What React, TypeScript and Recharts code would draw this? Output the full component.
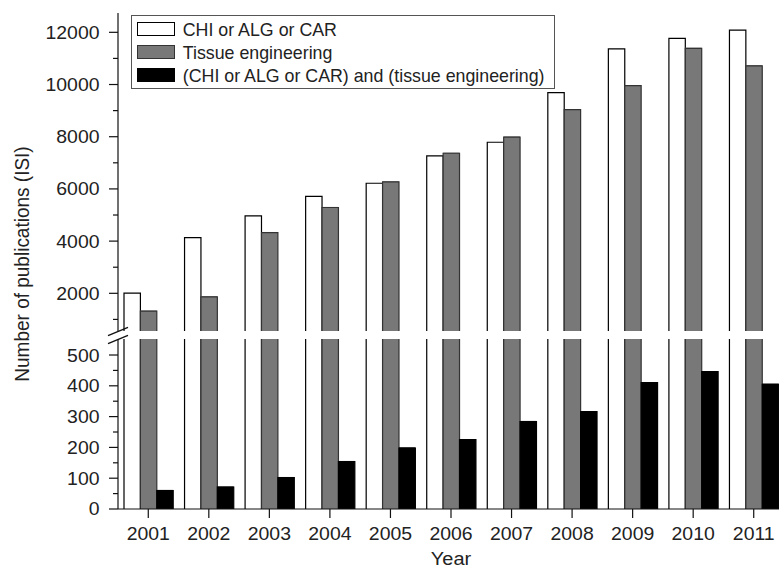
import React from 'react';
import { BarChart, Bar, XAxis, YAxis, Legend, Label } from 'recharts';

// ---------- data ----------
const years = ['2001', '2002', '2003', '2004', '2005', '2006', '2007', '2008', '2009', '2010', '2011'];
const chiAlgCar = [2030, 4160, 4990, 5740, 6240, 7290, 7810, 9710, 11390, 11790, 12110];
const tissueEngineering = [1340, 1890, 4350, 5310, 6290, 7390, 8010, 9060, 9980, 11410, 10740];
const combined = [62, 73, 104, 156, 200, 227, 286, 318, 412, 448, 407];

const seriesKeys = ['chi', 'tissue', 'both'];
const seriesNames = ['CHI or ALG or CAR', 'Tissue engineering', '(CHI or ALG or CAR) and (tissue engineering)'];
const seriesFills = ['#ffffff', '#787878', '#000000'];
const seriesStrokes = ['#000000', '#333333', '#000000'];

const upperTicks = [1000, 2000, 3000, 4000, 5000, 6000, 7000, 8000, 9000, 10000, 11000, 12000];
const lowerTicks = [0, 50, 100, 150, 200, 250, 300, 350, 400, 450, 500];
const upperDomain: [number, number] = [556, 12740];
const lowerDomain: [number, number] = [0, 552];

const data = years.map((year, i) => ({
  year,
  chi: chiAlgCar[i],
  tissue: tissueEngineering[i],
  both: combined[i],
}));

// ---------- layout / style ----------
const W = 800;
const H = 569;
const AXIS_X = 118;
const RIGHT = 16;
const UPPER_TOP = 13;
const UPPER_BOTTOM = 331;
const LOWER_TOP = 339;
const LOWER_BOTTOM = 509;
const FONT = '"Liberation Sans", Arial, Helvetica, sans-serif';
const TEXT = '#222222';
const AXIS = '#111111';
const STRETCH = 1.08;

const makeShape = (stroke: string) => (props: any) => {
  const { x, y, width, height, fill, background } = props;
  if (x == null || y == null || width == null || height == null) return null;
  const y0 = Math.min(y, y + height);
  const y1 = Math.max(y, y + height);
  const top = background && background.y != null ? background.y : -Infinity;
  const bottom = background && background.height != null ? background.y + background.height : Infinity;
  const cy0 = Math.max(y0, top);
  const cy1 = Math.min(y1, bottom);
  if (cy1 - cy0 <= 0.01) return null;
  const topClipped = y0 < top - 0.01;
  const d = topClipped
    ? `M${x},${cy1}V${cy0}M${x + width},${cy0}V${cy1}`
    : `M${x},${cy1}V${cy0 + 0.6}H${x + width}V${cy1}`;
  return (
    <g>
      <rect x={x} y={cy0} width={width} height={cy1 - cy0} fill={fill} />
      <path d={d} fill="none" stroke={stroke} strokeWidth={1.2} />
    </g>
  );
};

const YTick = (props: any) => {
  const { y, payload, step } = props;
  const v = payload.value;
  const major = v % step === 0;
  return (
    <g>
      <line x1={AXIS_X - (major ? 9 : 5)} x2={AXIS_X} y1={y} y2={y} stroke={AXIS} strokeWidth={1.2} />
      {major && (
        <text
          transform={`translate(${AXIS_X - 18.5},${y}) scale(${STRETCH},1)`}
          textAnchor="end"
          dy="0.36em"
          fontSize={18}
          fontFamily={FONT}
          fill={TEXT}
        >
          {v}
        </text>
      )}
    </g>
  );
};

const XTick = (props: any) => {
  const { x, payload } = props;
  return (
    <g>
      <line x1={x} x2={x} y1={LOWER_BOTTOM} y2={LOWER_BOTTOM + 9} stroke={AXIS} strokeWidth={1.2} />
      <text
        transform={`translate(${x},${LOWER_BOTTOM + 30.5}) scale(${STRETCH},1)`}
        textAnchor="middle"
        fontSize={18}
        fontFamily={FONT}
        fill={TEXT}
      >
        {payload.value}
      </text>
    </g>
  );
};

const LegendBox = (props: any) => {
  const payload = [...(props.payload || [])].sort(
    (a: any, b: any) => seriesNames.indexOf(a.value) - seriesNames.indexOf(b.value)
  );
  return (
    <div
      style={{
        boxSizing: 'border-box',
        width: 424,
        height: 74,
        border: '1.5px solid #555555',
        background: '#ffffff',
        padding: '1.2px 0 0 5.2px',
        fontFamily: FONT,
        fontSize: 17.8,
        color: TEXT,
      }}
    >
      {payload.map((entry: any) => {
        const i = seriesNames.indexOf(entry.value);
        return (
          <div key={entry.value} style={{ display: 'flex', alignItems: 'center', height: 23 }}>
            <span
              style={{
                display: 'inline-block',
                boxSizing: 'border-box',
                width: 38,
                height: 14,
                border: `1.5px solid ${seriesStrokes[i]}`,
                background: seriesFills[i],
                marginRight: 7.6,
                flex: 'none',
              }}
            />
            <span style={{ position: 'relative', top: 1.5, lineHeight: '20px', whiteSpace: 'nowrap' }}>
              {entry.value}
            </span>
          </div>
        );
      })}
    </div>
  );
};

const renderBars = () =>
  seriesKeys.map((k, i) => (
    <Bar
      key={k}
      dataKey={k}
      name={seriesNames[i]}
      fill={seriesFills[i]}
      stroke={seriesStrokes[i]}
      barSize={16.4}
      shape={makeShape(seriesStrokes[i])}
      isAnimationActive={false}
    />
  ));

export default function App() {
  return (
    <div
      style={{
        position: 'absolute',
        left: 0,
        top: 0,
        width: 779,
        height: 569,
        overflow: 'hidden',
        background: '#ffffff',
      }}
    >
      {/* upper segment */}
      <div style={{ position: 'absolute', left: 0, top: 0 }}>
        <BarChart
          width={W}
          height={H}
          data={data}
          margin={{ top: UPPER_TOP, right: RIGHT, bottom: H - UPPER_BOTTOM, left: 0 }}
          barGap={0}
        >
          <XAxis dataKey="year" hide height={0} />
          <YAxis
            type="number"
            domain={upperDomain}
            allowDataOverflow
            ticks={upperTicks}
            interval={0}
            width={AXIS_X}
            tickLine={false}
            axisLine={{ stroke: AXIS, strokeWidth: 1.2 }}
            tick={(p: any) => <YTick {...p} step={2000} />}
          />
          <Legend
            layout="vertical"
            align="center"
            verticalAlign="middle"
            itemSorter={null as any}
            wrapperStyle={{ left: 131, top: 15, width: 424, height: 74, margin: 0, padding: 0 }}
            content={(p: any) => <LegendBox {...p} />}
          />
          {renderBars()}
        </BarChart>
      </div>

      {/* lower segment */}
      <div style={{ position: 'absolute', left: 0, top: 0 }}>
        <BarChart
          width={W}
          height={H}
          data={data}
          margin={{ top: LOWER_TOP, right: RIGHT, bottom: 5, left: 0 }}
          barGap={0}
        >
          <XAxis
            dataKey="year"
            height={55}
            interval={0}
            tickLine={false}
            axisLine={{ stroke: AXIS, strokeWidth: 1.2 }}
            tick={(p: any) => <XTick {...p} />}
          >
            <Label
              content={(p: any) => {
                const vb = p.viewBox || { x: AXIS_X, width: W - AXIS_X - RIGHT };
                return (
                  <text
                    transform={`translate(${vb.x + vb.width / 2},565) scale(${STRETCH},1)`}
                    textAnchor="middle"
                    fontSize={18.5}
                    fontFamily={FONT}
                    fill={TEXT}
                  >
                    Year
                  </text>
                );
              }}
            />
          </XAxis>
          <YAxis
            type="number"
            domain={lowerDomain}
            allowDataOverflow
            ticks={lowerTicks}
            interval={0}
            width={AXIS_X}
            tickLine={false}
            axisLine={{ stroke: AXIS, strokeWidth: 1.2 }}
            tick={(p: any) => <YTick {...p} step={100} />}
          />
          {renderBars()}
        </BarChart>
      </div>

      {/* axis title and break marks */}
      <svg
        width={779}
        height={569}
        style={{ position: 'absolute', left: 0, top: 0, pointerEvents: 'none' }}
      >
        <text
          transform={`translate(29.3,${(UPPER_TOP + LOWER_BOTTOM) / 2 + 3}) rotate(-90) scale(1,${STRETCH})`}
          textAnchor="middle"
          fontSize={19}
          fontFamily={FONT}
          fill={TEXT}
        >
          Number of publications (ISI)
        </text>
        <line
          x1={AXIS_X - 10}
          y1={UPPER_BOTTOM + 0.5 + 4.2}
          x2={AXIS_X + 10}
          y2={UPPER_BOTTOM + 0.5 - 4.2}
          stroke={AXIS}
          strokeWidth={1.3}
        />
        <line
          x1={AXIS_X - 10}
          y1={LOWER_TOP + 0.5 + 4.2}
          x2={AXIS_X + 10}
          y2={LOWER_TOP + 0.5 - 4.2}
          stroke={AXIS}
          strokeWidth={1.3}
        />
      </svg>
    </div>
  );
}
